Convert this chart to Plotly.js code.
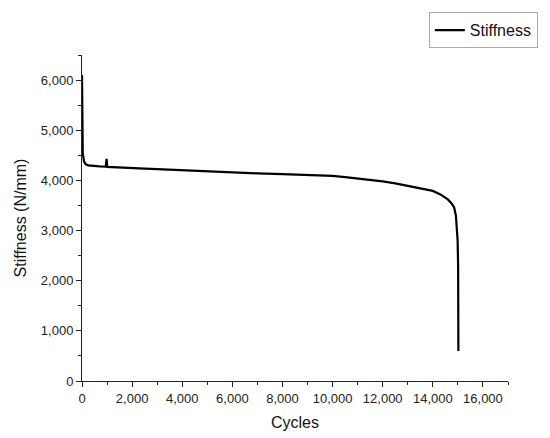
<!DOCTYPE html>
<html>
<head>
<meta charset="utf-8">
<script src="https://cdn.plot.ly/plotly-3.0.1.min.js"></script>
<style>
  html, body { margin: 0; padding: 0; background: #fff; }
  #chart { width: 550px; height: 438px; }
</style>
</head>
<body>
<div id="chart"></div>
<script>
// Fatigue test data
const cycles = [
    0, 15, 30, 80, 150, 250, 400, 700, 950, 980, 1010, 1500, 2000, 2500, 3000,
    4000, 5000, 6000, 7000, 8000, 9000, 10000, 10500, 11000, 11500, 12000,
    12500, 13000, 13500, 14000, 14300, 14600, 14750, 14850, 14920, 14960,
    14990, 15010, 15020, 15020
];

const stiffness = [
    6100, 5000, 4550, 4380, 4320, 4300, 4290, 4280, 4275, 4430, 4270, 4255, 4245, 4235, 4225,
    4200, 4175, 4155, 4140, 4125, 4110, 4090, 4065, 4040, 4015, 3980,
    3940, 3895, 3850, 3790, 3720, 3620, 3540, 3460, 3300, 3100,
    2800, 2300, 1500, 600
];

const stiffnessTrace = {
    x: cycles,
    y: stiffness,
    mode: 'lines',
    name: 'Stiffness',
    line: { color: '#000', width: 2.2 },
};

const axisFont = { family: 'Liberation Sans, Arial, sans-serif', size: 13, color: '#222' };
const titleFont = { family: 'Liberation Sans, Arial, sans-serif', size: 16, color: '#111' };

const layout = {
    width: 550,
    height: 438,
    margin: { l: 82, r: 40, t: 53, b: 57 },
    paper_bgcolor: '#fff',
    plot_bgcolor: '#fff',
    showlegend: true,
    xaxis: {
        title: { text: 'Cycles', font: titleFont, standoff: 12 },
        range: [0, 17000],
        dtick: 2000,
        tickformat: ',d',
        tickfont: axisFont,
        ticks: 'outside',
        ticklen: 5,
        tickcolor: '#222',
        minor: { ticks: 'outside', ticklen: 3, dtick: 1000, tickcolor: '#222' },
        showline: true,
        linecolor: '#222',
        linewidth: 1,
        showgrid: false,
        zeroline: false,
    },
    yaxis: {
        title: { text: 'Stiffness (N/mm)', font: titleFont, standoff: 10 },
        range: [0, 6500],
        dtick: 1000,
        tickformat: ',d',
        tickfont: axisFont,
        ticks: 'outside',
        ticklen: 5,
        tickcolor: '#222',
        minor: { ticks: 'outside', ticklen: 3, dtick: 500, tickcolor: '#222' },
        showline: true,
        linecolor: '#222',
        linewidth: 1,
        showgrid: false,
        zeroline: false,
    },
    legend: {
        x: 1.07, xanchor: 'right',
        y: 1.131, yanchor: 'top',
        bordercolor: '#aaa',
        borderwidth: 1,
        font: { family: 'Liberation Sans, Arial, sans-serif', size: 16, color: '#111' },
    },
};

Plotly.newPlot('chart', [stiffnessTrace], layout, { staticPlot: true });
</script>
</body>
</html>
